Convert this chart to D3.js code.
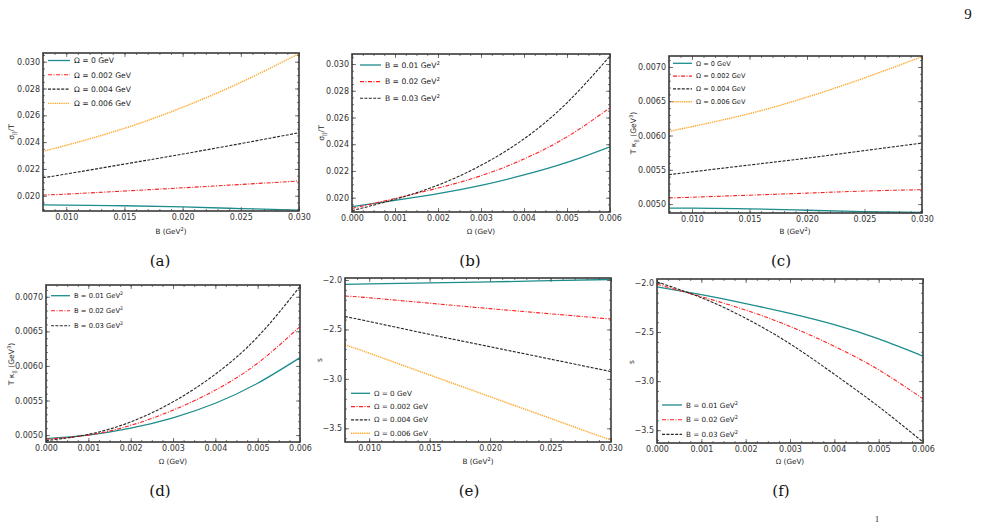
<!DOCTYPE html>
<html>
<head>
<meta charset="utf-8">
<script src="https://cdn.jsdelivr.net/npm/d3@7"></script>
<style>
body{margin:0;background:#fff}
svg{display:block}
</style>
</head>
<body>
<script>
var W = 983, H = 524;

// x grids
var bGrid = [0.008, 0.010, 0.015, 0.020, 0.025, 0.030];
var omegaGrid = [0, 0.001, 0.002, 0.003, 0.004, 0.005, 0.006];

// tick labels
var bTicks = [0.010, 0.015, 0.020, 0.025, 0.030];
var omegaTicks = [0, 0.001, 0.002, 0.003, 0.004, 0.005, 0.006];
var sigmaTicks = [0.020, 0.022, 0.024, 0.026, 0.028, 0.030];
var kappaTicks = [0.0050, 0.0055, 0.0060, 0.0065, 0.0070];
var sTicks = [-2.0, -2.5, -3.0, -3.5];

// legend names
var omegaNames = ["0", "0.002", "0.004", "0.006"];
var bNames = ["0.01", "0.02", "0.03"];

// (a) sigma/T vs B, one per Omega
var sigB_om0 = [0.01931, 0.01930, 0.01925, 0.01917, 0.01904, 0.01893];
var sigB_om2 = [0.02005, 0.02012, 0.02035, 0.02059, 0.02084, 0.02110];
var sigB_om4 = [0.02134, 0.02162, 0.02236, 0.02311, 0.02389, 0.02470];
var sigB_om6 = [0.02333, 0.02376, 0.02503, 0.02660, 0.02846, 0.03060];

// (b) sigma/T vs Omega, one per B
var sigO_b1 = [0.01933, 0.01980, 0.02030, 0.02092, 0.02170, 0.02264, 0.02381];
var sigO_b2 = [0.01920, 0.01994, 0.02072, 0.02164, 0.02290, 0.02455, 0.02673];
var sigO_b3 = [0.01903, 0.01988, 0.02094, 0.02242, 0.02440, 0.02710, 0.03060];

// (c) T kappa vs B
var kapB_om0 = [0.00494, 0.00494, 0.00493, 0.00491, 0.00489, 0.00488];
var kapB_om2 = [0.00509, 0.00510, 0.00513, 0.00516, 0.00519, 0.00521];
var kapB_om4 = [0.00543, 0.00547, 0.00557, 0.00567, 0.00578, 0.00589];
var kapB_om6 = [0.00606, 0.00613, 0.00632, 0.00656, 0.00684, 0.00715];

// (d) T kappa vs Omega
var kapO_b1 = [0.00495, 0.00500, 0.00510, 0.00525, 0.00546, 0.00575, 0.00612];
var kapO_b2 = [0.00494, 0.00500, 0.00514, 0.00536, 0.00565, 0.00604, 0.00657];
var kapO_b3 = [0.00492, 0.00501, 0.00519, 0.00548, 0.00588, 0.00642, 0.00715];

// (e) s vs B
var sB_om0 = [-2.045, -2.040, -2.030, -2.020, -2.006, -1.995];
var sB_om2 = [-2.162, -2.180, -2.235, -2.290, -2.342, -2.395];
var sB_om4 = [-2.370, -2.420, -2.550, -2.675, -2.800, -2.926];
var sB_om6 = [-2.655, -2.740, -2.960, -3.180, -3.400, -3.620];

// (f) s vs Omega
var sO_b1 = [-2.040, -2.120, -2.210, -2.310, -2.425, -2.570, -2.745];
var sO_b2 = [-2.013, -2.140, -2.276, -2.443, -2.645, -2.885, -3.180];
var sO_b3 = [-1.990, -2.150, -2.360, -2.620, -2.930, -3.260, -3.620];

var styles = [
  {color: "#1d8c8c", dash: null, width: 1.3},
  {color: "#ff1f1f", dash: "4,1.5,1,1.5", width: 1.1},
  {color: "#2b2622", dash: "3,1.4", width: 1.1},
  {color: "#ffa526", dash: "1.3,0.9", width: 1.4}
];

var svg = d3.select("body").append("svg")
    .attr("width", W)
    .attr("height", H)
    .style("font-family", "'DejaVu Sans', sans-serif");

// write text made of pieces, some raised or lowered
function richText(sel, parts, size) {
  var shift = 0;
  parts.forEach(function(pt) {
    var t = sel.append("tspan").text(pt.t);
    var want = 0;
    if (pt.sup) want = -size * 0.42;
    if (pt.sub) want = size * 0.3;
    if (want != shift) t.attr("dy", want - shift);
    if (pt.sup || pt.sub) t.attr("font-size", size * 0.7);
    shift = want;
  });
}

var omegaLabel = function(n) { return [{t: "\u03A9 = " + n + " GeV"}]; };
var bLabel = function(n) { return [{t: "B = " + n + " GeV"}, {t: "2", sup: true}]; };
var bAxisLabel = [{t: "B (GeV"}, {t: "2", sup: true}, {t: ")"}];
var omAxisLabel = [{t: "\u03A9 (GeV)"}];
var sigLabel = [{t: "\u03C3"}, {t: "||", sub: true}, {t: "/T"}];
var kapLabel = [{t: "T \u03BA"}, {t: "||", sub: true}, {t: " (GeV"}, {t: "3", sup: true}, {t: ")"}];
var sLabel = [{t: "s"}];

var panels = [
  {id: "a", box: [43, 299, 53, 211], xs: bGrid, xDomain: [0.008, 0.030], yDomain: [0.01886, 0.03065],
   xTicks: bTicks, xMinor: 0.001, xFmt: ".3f", yTicks: sigmaTicks, yMinor: 0.0005, yFmt: ".3f",
   series: [sigB_om0, sigB_om2, sigB_om4, sigB_om6], labels: omegaNames.map(omegaLabel),
   legend: {x: 48, y: 60.5, step: 14.3, len: 22, size: 7.6},
   xLabel: bAxisLabel, xLabelPos: [171, 234], yLabel: sigLabel, yLabelPos: [14, 132], caption: "(a)", capPos: [160, 266]},
  {id: "b", box: [352, 610, 54, 212], xs: omegaGrid, xDomain: [0, 0.006], yDomain: [0.01893, 0.03075],
   xTicks: omegaTicks, xMinor: 0.00025, xFmt: ".3f", yTicks: sigmaTicks, yMinor: 0.0005, yFmt: ".3f",
   series: [sigO_b1, sigO_b2, sigO_b3], labels: bNames.map(bLabel),
   legend: {x: 360, y: 65, step: 16.6, len: 21, size: 7.6},
   xLabel: omAxisLabel, xLabelPos: [481, 234], yLabel: sigLabel, yLabelPos: [324, 133], caption: "(b)", capPos: [470, 266]},
  {id: "c", box: [669, 922, 56, 213], xs: bGrid, xDomain: [0.008, 0.030], yDomain: [0.00487, 0.00716],
   xTicks: bTicks, xMinor: 0.001, xFmt: ".3f", yTicks: kappaTicks, yMinor: 0.0001, yFmt: ".4f",
   series: [kapB_om0, kapB_om2, kapB_om4, kapB_om6], labels: omegaNames.map(omegaLabel),
   legend: {x: 673, y: 63.3, step: 12.8, len: 19, size: 6.6},
   xLabel: bAxisLabel, xLabelPos: [795, 234], yLabel: kapLabel, yLabelPos: [636, 133], caption: "(c)", capPos: [781, 266]},
  {id: "d", box: [46, 300, 285, 442], xs: omegaGrid, xDomain: [0, 0.006], yDomain: [0.00490, 0.00717],
   xTicks: omegaTicks, xMinor: 0.00025, xFmt: ".3f", yTicks: kappaTicks, yMinor: 0.0001, yFmt: ".4f",
   series: [kapO_b1, kapO_b2, kapO_b3], labels: bNames.map(bLabel),
   legend: {x: 51, y: 295.7, step: 15, len: 19, size: 6.8},
   xLabel: omAxisLabel, xLabelPos: [173, 464], yLabel: kapLabel, yLabelPos: [14, 364], caption: "(d)", capPos: [160, 496]},
  {id: "e", box: [345, 611, 278, 442], xs: bGrid, xDomain: [0.008, 0.030], yDomain: [-3.638, -1.98],
   xTicks: bTicks, xMinor: 0.001, xFmt: ".3f", yTicks: sTicks, yMinor: 0.1, yFmt: ".1f",
   series: [sB_om0, sB_om2, sB_om4, sB_om6], labels: omegaNames.map(omegaLabel),
   legend: {x: 351, y: 393.3, step: 13.3, len: 19, size: 7.2},
   xLabel: bAxisLabel, xLabelPos: [478, 464], yLabel: sLabel, yLabelPos: [322, 360], caption: "(e)", capPos: [469, 496]},
  {id: "f", box: [657, 923, 279, 443], xs: omegaGrid, xDomain: [0, 0.006], yDomain: [-3.63, -1.96],
   xTicks: omegaTicks, xMinor: 0.00025, xFmt: ".3f", yTicks: sTicks, yMinor: 0.1, yFmt: ".1f",
   series: [sO_b1, sO_b2, sO_b3], labels: bNames.map(bLabel),
   legend: {x: 662, y: 405, step: 14.7, len: 20, size: 7.2},
   xLabel: omAxisLabel, xLabelPos: [790, 464], yLabel: sLabel, yLabelPos: [634, 362], caption: "(f)", capPos: [781, 496]}
];

function drawPanel(p) {
  var x = d3.scaleLinear().domain(p.xDomain).range([p.box[0], p.box[1]]);
  var y = d3.scaleLinear().domain(p.yDomain).range([p.box[3], p.box[2]]);
  var g = svg.append("g").attr("id", "panel-" + p.id);

  g.append("clipPath").attr("id", "clip-" + p.id)
    .append("rect")
    .attr("x", p.box[0]).attr("y", p.box[2])
    .attr("width", p.box[1] - p.box[0]).attr("height", p.box[3] - p.box[2]);

  var line = d3.line()
    .curve(d3.curveNatural)
    .x(function(d) { return x(d[0]); })
    .y(function(d) { return y(d[1]); });

  // curves, drawn from the first series up so the teal sits underneath
  p.series.forEach(function(vals, i) {
    var st = styles[i];
    g.append("path")
      .datum(p.xs.map(function(v, k) { return [v, vals[k]]; }))
      .attr("clip-path", "url(#clip-" + p.id + ")")
      .attr("d", line)
      .attr("fill", "none")
      .attr("stroke", st.color)
      .attr("stroke-width", st.width)
      .attr("stroke-dasharray", st.dash);
  });

  // minor ticks
  var xMin = d3.range(Math.ceil(p.xDomain[0] / p.xMinor - 1e-6) * p.xMinor, p.xDomain[1] + 1e-9, p.xMinor);
  var yMin = d3.range(Math.ceil(p.yDomain[0] / p.yMinor - 1e-6) * p.yMinor, p.yDomain[1] + 1e-9, p.yMinor);

  function tickAxis(axis, tr, vals, size, labelled, fmt) {
    var a = axis.tickValues(vals).tickSizeInner(size).tickSizeOuter(0).tickPadding(3);
    if (labelled) a.tickFormat(d3.format(fmt)); else a.tickFormat("");
    var ag = g.append("g").attr("transform", tr).call(a);
    ag.select(".domain").remove();
    ag.selectAll("line").attr("stroke", "#555").attr("stroke-width", 0.8);
    ag.selectAll("text").attr("fill", "#333").attr("font-size", 8)
      .attr("font-family", "'DejaVu Sans', sans-serif");
    return ag;
  }

  var bot = "translate(0," + p.box[3] + ")", top = "translate(0," + p.box[2] + ")";
  var lft = "translate(" + p.box[0] + ",0)", rgt = "translate(" + p.box[1] + ",0)";
  tickAxis(d3.axisBottom(x), bot, xMin, -2, false);
  tickAxis(d3.axisTop(x), top, xMin, -2, false);
  tickAxis(d3.axisLeft(y), lft, yMin, -2, false);
  tickAxis(d3.axisRight(y), rgt, yMin, -2, false);
  tickAxis(d3.axisBottom(x), bot, p.xTicks, -4, true, p.xFmt);
  tickAxis(d3.axisTop(x), top, p.xTicks, -4, false);
  tickAxis(d3.axisLeft(y), lft, p.yTicks, -4, true, p.yFmt);
  tickAxis(d3.axisRight(y), rgt, p.yTicks, -4, false);

  // frame
  g.append("rect")
    .attr("x", p.box[0]).attr("y", p.box[2])
    .attr("width", p.box[1] - p.box[0]).attr("height", p.box[3] - p.box[2])
    .attr("fill", "none").attr("stroke", "#3a3a3a").attr("stroke-width", 1.6);

  // legend
  var L = p.legend;
  p.labels.forEach(function(lab, i) {
    var st = styles[i];
    var yy = L.y + i * L.step;
    g.append("line")
      .attr("x1", L.x).attr("x2", L.x + L.len).attr("y1", yy).attr("y2", yy)
      .attr("stroke", st.color).attr("stroke-width", st.width)
      .attr("stroke-dasharray", st.dash);
    var t = g.append("text")
      .attr("x", L.x + L.len + 4).attr("y", yy + L.size * 0.36)
      .attr("font-size", L.size).attr("fill", "#222");
    richText(t, lab, L.size);
  });

  // axis titles
  var xt = g.append("text")
    .attr("x", p.xLabelPos[0]).attr("y", p.xLabelPos[1])
    .attr("text-anchor", "middle").attr("font-size", 7.2).attr("fill", "#222");
  richText(xt, p.xLabel, 7.2);

  var yt = g.append("text")
    .attr("transform", "translate(" + p.yLabelPos[0] + "," + p.yLabelPos[1] + ") rotate(-90)")
    .attr("text-anchor", "middle").attr("font-size", 7.6).attr("fill", "#222");
  richText(yt, p.yLabel, 7.6);

  // sub-figure caption
  g.append("text")
    .attr("x", p.capPos[0]).attr("y", p.capPos[1])
    .attr("text-anchor", "middle")
    .attr("font-family", "'DejaVu Serif', 'Liberation Serif', serif")
    .attr("font-size", 15).attr("fill", "#111")
    .text(p.caption);
}

panels.forEach(drawPanel);

// page number
svg.append("text")
  .attr("x", 968).attr("y", 19)
  .attr("text-anchor", "middle")
  .attr("font-family", "'Liberation Serif', serif")
  .attr("font-size", 15).attr("fill", "#111")
  .text("9");

svg.append("text")
  .attr("x", 877).attr("y", 522)
  .attr("text-anchor", "middle")
  .attr("font-family", "'Liberation Serif', serif")
  .attr("font-size", 8).attr("fill", "#111")
  .text("1");
</script>
</body>
</html>
